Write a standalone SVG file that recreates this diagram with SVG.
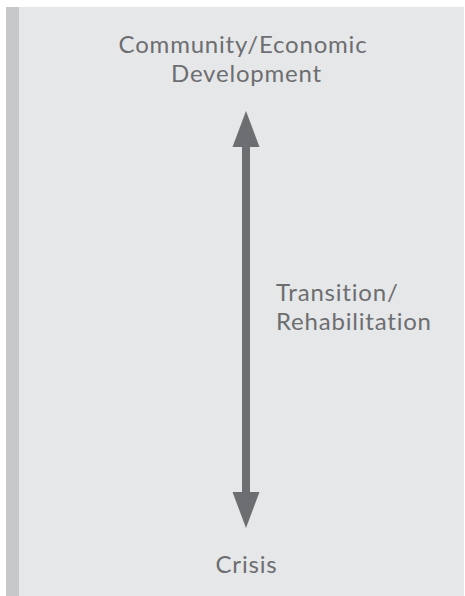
<svg xmlns="http://www.w3.org/2000/svg" width="465" height="596" viewBox="0 0 465 596">
  <style>
    .lbl { font-family: Lato, "Open Sans", sans-serif; font-size: 24px; letter-spacing: 0.8px; fill: #6d6e71; }
    .arrow { fill: #6d6e71; }
  </style>
  <rect x="0" y="0" width="465" height="596" fill="#ffffff"/>
  <!-- side strip and panel -->
  <rect x="6" y="7" width="13" height="589" fill="#c7c8ca"/>
  <rect x="19" y="7" width="445" height="589" fill="#e6e7e8"/>

  <g id="connectors">
    <!-- two-headed vertical arrow -->
    <rect class="arrow" x="242" y="145" width="8" height="349"/>
    <polygon class="arrow" points="246,111 259.5,147 232.5,147"/>
    <polygon class="arrow" points="246,528 259.5,492 232.5,492"/>
  </g>

  <g id="node-development">
    <text class="lbl" text-anchor="middle">
      <tspan x="246.5" y="53">Community/Economic</tspan>
      <tspan x="246.5" y="82">Development</tspan>
    </text>
  </g>

  <g id="node-transition">
    <text class="lbl">
      <tspan x="276" y="301">Transition/</tspan>
      <tspan x="276" y="330">Rehabilitation</tspan>
    </text>
  </g>

  <g id="node-crisis">
    <text class="lbl" text-anchor="middle" x="246.5" y="573">Crisis</text>
  </g>
</svg>
